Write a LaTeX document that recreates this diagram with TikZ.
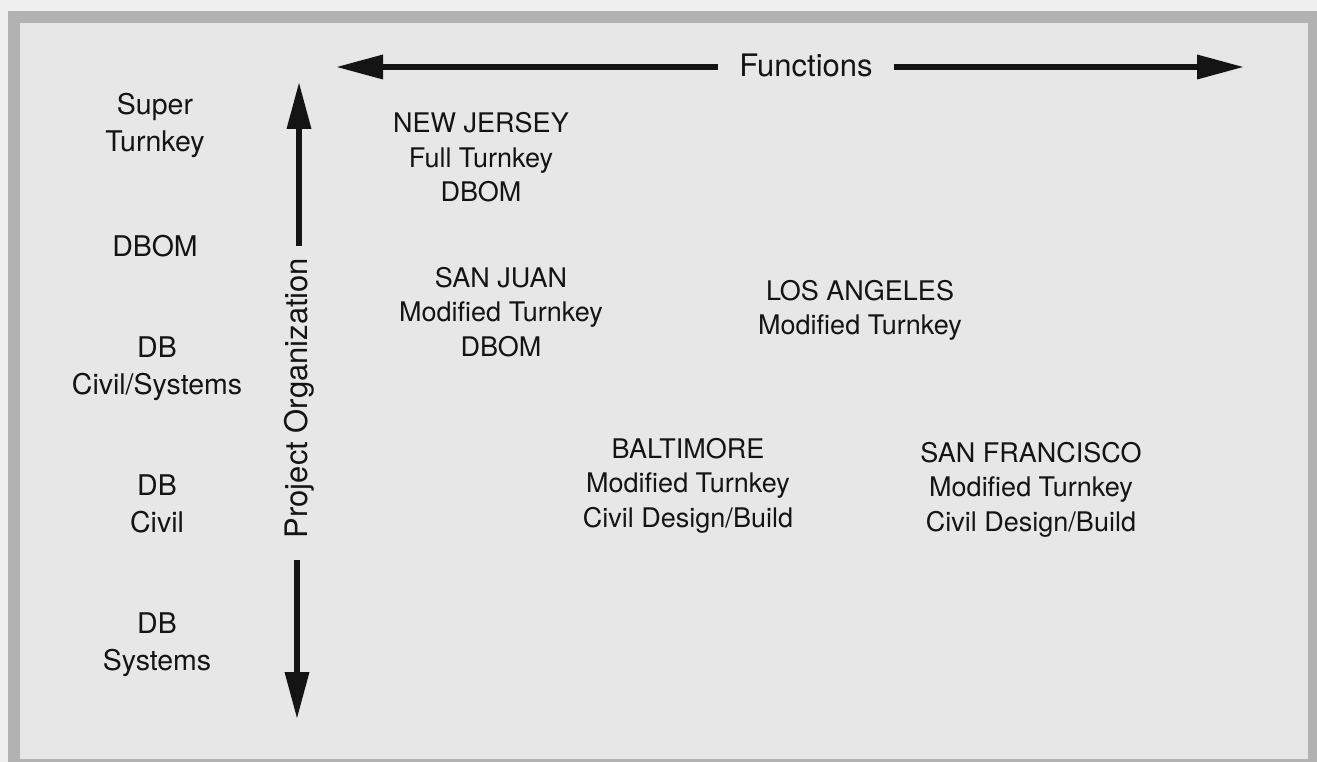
\documentclass[tikz,border=0pt]{standalone}
\usepackage{fontspec}
\setmainfont{TeX Gyre Heros}
\usetikzlibrary{arrows.meta}
\definecolor{pagebg}{HTML}{EFEFEF}
\definecolor{framegray}{HTML}{B2B2B2}
\definecolor{panelbg}{HTML}{E7E7E7}
\definecolor{ink}{HTML}{141414}
% multi-line labels are placed by the baseline of their last line
\tikzset{
  lvl/.style={align=center, inner sep=0pt, anchor=base, text=ink,
    font=\fontsize{28.5}{37}\selectfont},
  site/.style={align=center, inner sep=0pt, anchor=base, text=ink,
    font=\fontsize{27}{34.5}\selectfont},
  axislabel/.style={inner ysep=0pt, text=ink, font=\fontsize{31}{36}\selectfont},
  bigarrow/.style={draw=ink, line width=6.5pt,
    -{Triangle[length=46pt,width=25pt,line width=0pt]}, fill=ink},
}
\begin{document}
\begin{tikzpicture}[x=1pt, y=-1pt]
  \useasboundingbox (0,0) rectangle (1317,762);
  % page, frame and panel
  \fill[pagebg] (0,0) rectangle (1317,762);
  \fill[framegray] (8,11) rectangle (1317,762);
  \fill[panelbg] (20,23) rectangle (1308,759);

  % horizontal axis
  \node[axislabel, inner xsep=21pt, anchor=base] (fn) at (806,77) {Functions};
  \coordinate (fnL) at (337,67);
  \coordinate (fnR) at (1243,67);
  \draw[bigarrow] (fn.west |- fnL) -- (fnL);
  \draw[bigarrow] (fn.east |- fnR) -- (fnR);

  % vertical axis
  \node[axislabel, rotate=90, inner xsep=12pt] (po) at (299,398) {Project Organization};
  \coordinate (poT) at (299,83);
  \coordinate (poB) at (297,718);
  \draw[bigarrow] (po.east) -- (poT);
  \draw[bigarrow, shorten <=10pt] (po.west -| poB) -- (poB);

  % organisation levels
  \node[lvl] (l1) at (155,152) {Super\\Turnkey};
  \node[lvl] (l2) at (155,256) {DBOM};
  \node[lvl] (l3) at (157,394) {DB\\Civil/Systems};
  \node[lvl] (l4) at (157,532) {DB\\Civil};
  \node[lvl] (l5) at (157,670) {DB\\Systems};

  % sites
  \node[site] (nj) at (481,202) {NEW JERSEY\\Full Turnkey\\DBOM};
  \node[site] (sj) at (501,356) {SAN JUAN\\Modified Turnkey\\DBOM};
  \node[site] (la) at (860,334.5) {LOS ANGELES\\Modified Turnkey};
  \node[site] (ba) at (688,527) {BALTIMORE\\Modified Turnkey\\Civil Design/Build};
  \node[site] (sf) at (1031,531) {SAN FRANCISCO\\Modified Turnkey\\Civil Design/Build};
\end{tikzpicture}
\end{document}
